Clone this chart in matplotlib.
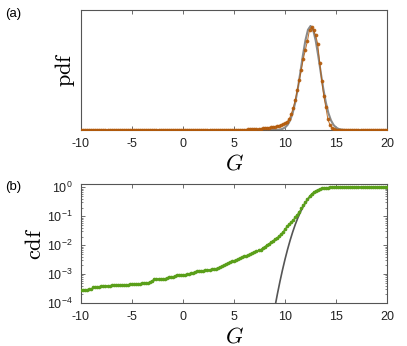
import numpy as np
import matplotlib
matplotlib.use("Agg")
import matplotlib.pyplot as plt
from matplotlib.ticker import LogLocator, NullFormatter

plt.rcParams['font.family'] = ['Liberation Sans', 'DejaVu Sans']
plt.rcParams['mathtext.fontset'] = 'cm'
plt.rcParams['axes.unicode_minus'] = False

## Données
G = np.round(np.arange(-10, 20.001, 0.2), 1)   # grille des points (pas 0.2)

# pdf empirique (points orange)
pdf_data = (
    [0.0002, 0.0001, 0.0002, 0.0003, 0.0001, 0.0002, 0.0002, 0.0001, 0.0003, 0.0001,
     0.0002, 0.0001, 0.0002, 0.0001, 0.0002, 0.0003, 0.0001, 0.0002, 0.0001, 0.0003,
     0.0001, 0.0002, 0.0003, 0.0001, 0.0002]                                   # -10 .. -5.2
    + [0.0003, 0.0004, 0.0003, 0.0005, 0.0004, 0.0003, 0.0005, 0.0004, 0.0006, 0.0004,
       0.0005, 0.0004, 0.0006, 0.0005, 0.0004, 0.0006, 0.0005, 0.0007, 0.0005, 0.0006,
       0.0005, 0.0007, 0.0006, 0.0005, 0.0007]                                 # -5 .. -0.2
    + [0.0006, 0.0007, 0.0008, 0.0007, 0.0009, 0.0008, 0.0009, 0.0010, 0.0009, 0.0011,
       0.0010, 0.0011, 0.0012, 0.0011, 0.0013, 0.0012, 0.0013, 0.0014, 0.0013, 0.0015,
       0.0014, 0.0015, 0.0016, 0.0015, 0.0017]                                 # 0 .. 4.8
    + [0.0017, 0.0018, 0.0019, 0.0018, 0.0020]                                 # 5 .. 5.8
    + [0.002, 0.002, 0.003, 0.003, 0.003, 0.004, 0.004, 0.005, 0.006, 0.007,
       0.008, 0.009, 0.010, 0.011, 0.012, 0.014, 0.016, 0.019, 0.022]          # 6 .. 9.6
    + [0.025, 0.028, 0.034, 0.045, 0.066, 0.093, 0.125, 0.165, 0.208, 0.252,
       0.298, 0.335, 0.372, 0.418, 0.428, 0.415, 0.395, 0.360, 0.280, 0.205,
       0.140, 0.095, 0.045, 0.022, 0.010, 0.005, 0.002, 0.001]                 # 9.8 .. 15.2
    + [0.0] * 24                                                               # 15.4 .. 20
)

# cdf empirique (points verts)
cdf_data = (
    [v * 1e-4 for v in [2.9, 2.9, 2.9, 2.9, 3.0, 3.0, 3.5, 3.5, 3.5, 3.6,
                        4.0, 4.0, 4.0, 4.0, 4.0, 4.1, 4.1, 4.1, 4.1, 4.3,
                        4.3, 4.3, 4.3, 4.3, 4.4, 4.4, 4.4, 4.4, 4.4, 4.5,
                        4.9, 4.9, 4.9, 5.0, 5.5, 6.0, 6.9, 6.9, 6.9, 6.9,
                        7.0, 7.0, 7.3, 7.9, 7.9, 8.1, 8.5, 9.5, 9.5, 9.6]]      # -10 .. -0.2
    + [v * 1e-3 for v in [0.96, 0.97, 0.98, 1.0, 1.1, 1.14, 1.2, 1.25, 1.3, 1.3,
                          1.32, 1.35, 1.4, 1.4, 1.45, 1.5, 1.55, 1.65, 1.75, 1.85,
                          2.0, 2.2, 2.4, 2.6, 2.8, 2.95, 3.1, 3.3, 3.5, 3.8,
                          4.1, 4.3, 4.5, 4.8, 5.4, 5.9, 6.3, 6.7, 7.1, 8.0,
                          9.0, 10.0, 11.2, 12.5, 14.2, 16.0, 18.0, 20.5, 24.0, 29.0]]  # 0 .. 9.8
    + [0.036, 0.045, 0.053, 0.063, 0.075, 0.092, 0.115, 0.145, 0.19, 0.245,
       0.31, 0.39, 0.50, 0.60, 0.68, 0.76, 0.83, 0.88, 0.925, 0.952,
       0.972, 0.985, 0.993, 0.997, 0.999]                                      # 10 .. 14.8
    + [1.0] * 26                                                               # 15 .. 20
)

# ajustement gaussien (courbe grise)
G_fit = [-10, 9.0, 9.25, 9.5, 9.75, 10.0, 10.25, 10.5, 10.75, 11.0, 11.25, 11.5, 11.75,
         12.0, 12.25, 12.5, 12.75, 13.0, 13.25, 13.5, 13.75, 14.0, 14.25, 14.5,
         14.75, 15.0, 15.25, 15.5, 15.75, 16.0, 20]
pdf_fit = [0.0, 0.0003, 0.00085, 0.0021, 0.0050, 0.0108, 0.0218, 0.0408, 0.0710, 0.1148,
           0.1723, 0.2401, 0.3110, 0.3741, 0.4179, 0.4336, 0.4179, 0.3741, 0.3110,
           0.2401, 0.1723, 0.1148, 0.0710, 0.0408, 0.0218, 0.0108, 0.0050, 0.0021,
           0.00085, 0.0003, 0.0]
cdf_fit = [1e-9, 7.1e-5, 2.05e-4, 5.55e-4, 1.40e-3, 3.29e-3, 7.22e-3, 0.01485, 0.0286,
           0.0516, 0.0871, 0.1385, 0.2075, 0.2934, 0.3929, 0.5, 0.6071, 0.7066, 0.7925,
           0.8615, 0.9129, 0.9484, 0.9714, 0.98515, 0.99278, 0.99671, 0.99857, 0.99945,
           0.99981, 0.99993, 1.0]

assert len(pdf_data) == len(G) and len(cdf_data) == len(G)

orange = '#b35a0a'
vert = '#5a9f1a'
axcol = '#555555'

fig = plt.figure(figsize=(4.07, 3.46), dpi=100)
ax1 = fig.add_axes([0.199, 0.624, 0.752, 0.347])
ax2 = fig.add_axes([0.199, 0.124, 0.752, 0.344])

## (a) pdf
ax1.plot(G_fit, pdf_fit, color='#8a8a8a', lw=1.5, zorder=2)
ax1.plot(G, pdf_data, color=orange, lw=0.7, marker='o', ms=1.7, mec=orange,
         mfc=orange, alpha=0.85, zorder=3)
ax1.set_xlim(-10, 20)
ax1.set_ylim(0, 0.5)
ax1.set_yticks([])
ax1.set_ylabel(r'$\mathrm{pdf}$', fontsize=16)
ax1.yaxis.set_label_coords(-0.012, 0.5)

## (b) cdf
ax2.plot(G_fit, cdf_fit, color='#555555', lw=1.2, zorder=2)
ax2.plot(G, cdf_data, color=vert, lw=0.7, marker='o', ms=1.6, mec=vert,
         mfc=vert, zorder=3)
ax2.set_yscale('log')
ax2.set_xlim(-10, 20)
ax2.set_ylim(1e-4, 1.3)
ax2.yaxis.set_major_locator(LogLocator(base=10, numticks=10))
ax2.yaxis.set_minor_locator(LogLocator(base=10, subs=np.arange(2, 10), numticks=20))
ax2.yaxis.set_minor_formatter(NullFormatter())
ax2.set_ylabel(r'$\mathrm{cdf}$', fontsize=16)
ax2.yaxis.set_label_coords(-0.115, 0.5)

for ax in (ax1, ax2):
    ax.set_xticks([-10, -5, 0, 5, 10, 15, 20])
    ax.set_xlabel(r'$G$', fontsize=16, labelpad=2)
    ax.tick_params(direction='in', top=True, right=True, length=3, width=0.6,
                   color=axcol, labelsize=9, pad=6, labelcolor='#222222')
    ax.tick_params(which='minor', direction='in', right=True, length=1.5,
                   width=0.5, color=axcol)
    for s in ax.spines.values():
        s.set_color(axcol)
        s.set_linewidth(0.8)

fig.text(0.012, 0.96, '(a)', fontsize=9.5, va='center', ha='left')
fig.text(0.012, 0.46, '(b)', fontsize=9.5, va='center', ha='left')

fig.savefig('out.png', dpi=100)
